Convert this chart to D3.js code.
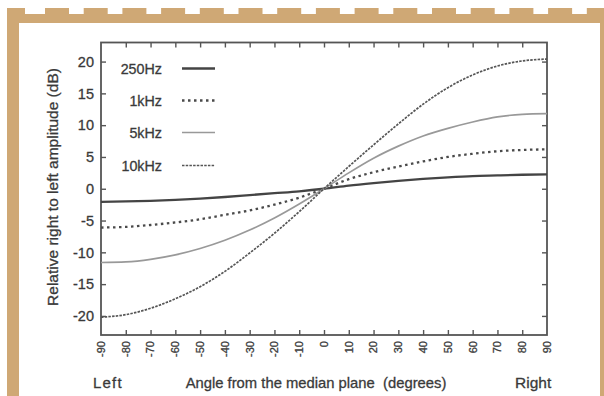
<!DOCTYPE html>
<html>
<head>
<meta charset="utf-8">
<script src="https://cdn.jsdelivr.net/npm/d3@7"></script>
<style>
  html, body { margin: 0; padding: 0; background: #fff; }
  svg { display: block; }
  text { font-family: "Liberation Sans", Arial, Helvetica, sans-serif; fill: #3a3a3a; stroke: #3a3a3a; stroke-width: 0.3px; }
</style>
</head>
<body>
<svg id="chart" width="604" height="396"></svg>
<script>
// Interaural level difference vs. source azimuth, four frequencies
const angles = [-90, -80, -70, -60, -50, -40, -30, -20, -10, 0, 10, 20, 30, 40, 50, 60, 70, 80, 90];
const hz250  = [-2.05, -2.0, -1.9, -1.75, -1.55, -1.3, -1.0, -0.7, -0.4, 0, 0.5, 0.9, 1.25, 1.55, 1.8, 2.0, 2.1, 2.2, 2.25];
const khz1   = [-6.1, -6.0, -5.7, -5.3, -4.8, -4.1, -3.4, -2.5, -1.4, 0, 1.5, 2.6, 3.5, 4.3, 5.0, 5.5, 5.9, 6.1, 6.2];
const khz5   = [-11.6, -11.5, -11.1, -10.4, -9.4, -8.1, -6.5, -4.6, -2.4, 0, 2.5, 4.8, 6.7, 8.3, 9.5, 10.5, 11.3, 11.7, 11.8];
const khz10  = [-20.2, -19.8, -18.8, -17.3, -15.4, -13.0, -10.1, -7.0, -3.6, 0, 3.5, 6.9, 10.2, 13.3, 15.9, 17.9, 19.3, 20.1, 20.4];
const seriesNames = ["250Hz", "1kHz", "5kHz", "10kHz"];
const xTicks = [-90, -80, -70, -60, -50, -40, -30, -20, -10, 0, 10, 20, 30, 40, 50, 60, 70, 80, 90];
const yTicks = [-20, -15, -10, -5, 0, 5, 10, 15, 20];

const svg = d3.select("#chart");

// ---- tan page frame ----
const tan = "#cfa875";
const frame = svg.append("g");
frame.append("rect").attr("x", 7).attr("y", 14).attr("width", 604 - 7).attr("height", 9).attr("fill", tan);
frame.append("rect").attr("x", 7).attr("y", 8).attr("width", 12).attr("height", 396 - 8).attr("fill", tan);
frame.append("rect").attr("x", 7).attr("y", 8).attr("width", 18).attr("height", 8).attr("fill", tan);
frame.append("rect").attr("x", 600).attr("y", 14).attr("width", 4).attr("height", 396 - 14).attr("fill", tan);
frame.selectAll("rect.dash").data(d3.range(0, 15)).join("rect")
  .attr("class", "dash")
  .attr("x", i => 45 + i * 38.7).attr("y", 8)
  .attr("width", 24).attr("height", 7).attr("fill", tan);

// ---- plot ----
const x = d3.scaleLinear().domain([-90, 90]).range([101, 547]);
const y = d3.scaleLinear().domain([-23, 23]).range([335, 42.5]);
const axisColor = "#555";

const g = svg.append("g");

// ticks on all four sides, pointing inward
const tickLen = 5;
g.append("g").attr("transform", `translate(0,${y(-23)})`)
  .call(d3.axisTop(x).tickValues(xTicks.slice(1, -1)).tickSize(tickLen).tickFormat(""))
  .call(s => s.select(".domain").remove());
g.append("g").attr("transform", `translate(0,${y(23)})`)
  .call(d3.axisBottom(x).tickValues(xTicks.slice(1, -1)).tickSize(tickLen).tickFormat(""))
  .call(s => s.select(".domain").remove());
g.append("g").attr("transform", `translate(${x(-90)},0)`)
  .call(d3.axisRight(y).tickValues(yTicks).tickSize(tickLen).tickFormat(""))
  .call(s => s.select(".domain").remove());
g.append("g").attr("transform", `translate(${x(90)},0)`)
  .call(d3.axisLeft(y).tickValues(yTicks).tickSize(tickLen).tickFormat(""))
  .call(s => s.select(".domain").remove());
g.selectAll(".tick line").attr("stroke", axisColor).attr("stroke-width", 1.4);

// border
g.append("rect")
  .attr("x", x(-90)).attr("y", y(23))
  .attr("width", x(90) - x(-90)).attr("height", y(-23) - y(23))
  .attr("fill", "none").attr("stroke", axisColor).attr("stroke-width", 1.8);

// y tick labels
g.selectAll("text.ylab").data(yTicks).join("text")
  .attr("class", "ylab")
  .attr("x", x(-90) - 7).attr("y", d => y(d))
  .attr("dy", "0.36em").attr("text-anchor", "end")
  .attr("font-size", 14.5).text(d => d);

// x tick labels, rotated
g.selectAll("text.xlab").data(xTicks).join("text")
  .attr("class", "xlab")
  .attr("transform", d => `translate(${x(d)},${y(-23) + 6}) rotate(-90)`)
  .attr("text-anchor", "end").attr("dy", "0.35em")
  .attr("font-size", 11).text(d => d);

// axis titles
svg.append("text")
  .attr("transform", `translate(58,187) rotate(-90)`)
  .attr("text-anchor", "middle").attr("font-size", 15.5)
  .text("Relative right to left amplitude (dB)");
svg.append("text")
  .attr("x", 316).attr("y", 388).attr("text-anchor", "middle").attr("font-size", 14.8)
  .attr("xml:space", "preserve")
  .text("Angle from the median plane  (degrees)");
svg.append("text")
  .attr("x", 93).attr("y", 388).attr("font-size", 15).attr("letter-spacing", 1.2)
  .text("Left");
svg.append("text")
  .attr("x", 515).attr("y", 388).attr("font-size", 15.5)
  .text("Right");

// ---- curves ----
const styles = {
  "250Hz": { color: "#444", width: 2.3, dash: null },
  "1kHz":  { color: "#4a4a4a", width: 2.3, dash: "2.5,3.5" },
  "5kHz":  { color: "#999", width: 1.7, dash: null },
  "10kHz": { color: "#555", width: 1.7, dash: "2.5,1.2" }
};
const seriesValues = { "250Hz": hz250, "1kHz": khz1, "5kHz": khz5, "10kHz": khz10 };

const line = d3.line()
  .x(d => x(d[0])).y(d => y(d[1]))
  .curve(d3.curveMonotoneX);

seriesNames.forEach(name => {
  const pts = angles.map((a, i) => [a, seriesValues[name][i]]);
  const st = styles[name];
  g.append("path").datum(pts)
    .attr("d", line)
    .attr("fill", "none")
    .attr("stroke", st.color)
    .attr("stroke-width", st.width)
    .attr("stroke-dasharray", st.dash);
});

// ---- legend ----
const legendY = [68.5, 100.5, 132.5, 165.5];
const legend = g.append("g");
seriesNames.forEach((name, i) => {
  const st = styles[name];
  legend.append("text")
    .attr("x", 162).attr("y", legendY[i]).attr("dy", "0.36em")
    .attr("text-anchor", "end").attr("font-size", 14.3).text(name);
  legend.append("line")
    .attr("x1", 182).attr("x2", 215)
    .attr("y1", legendY[i]).attr("y2", legendY[i])
    .attr("stroke", st.color).attr("stroke-width", st.width)
    .attr("stroke-dasharray", st.dash);
});
</script>
</body>
</html>
